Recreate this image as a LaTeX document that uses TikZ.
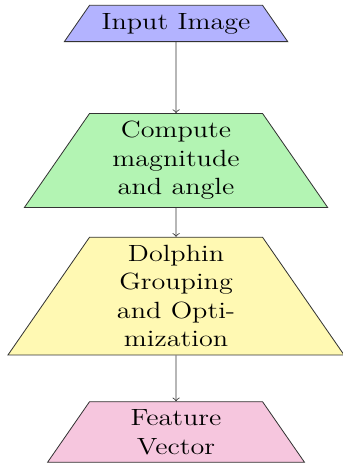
\documentclass[tikz,border=0pt]{standalone}
\usetikzlibrary{positioning, shapes.geometric}
\definecolor{StageBlue}{RGB}{179, 179, 255}
\definecolor{StageGreen}{RGB}{179, 244, 179}
\definecolor{StageYellow}{RGB}{255, 249, 179}
\definecolor{StagePink}{RGB}{246, 198, 222}

\begin{document}
\begin{tikzpicture}[xscale=1.2,
      stage/.style={trapezium, trapezium left angle=60, trapezium right angle=60, draw=black!80, text width=64pt, inner ysep=3.8pt, text centered, font=\fontsize{11.5}{14}\selectfont, transform shape},
      flow/.style={->, draw=black!80}
    ]
      \useasboundingbox (-71.9pt,0) rectangle (67.8pt,-227.9pt);
      \node[stage, fill=StageBlue] (input) at (0,-11.5pt) {Input Image};
      \node[stage, fill=StageGreen, below=34.8pt of input] (compute) {Compute magnitude and angle};
      \node[stage, fill=StageYellow, below=14.2pt of compute] (dolphin) {Dolphin Grouping and Optimization};
      \node[stage, fill=StagePink, below=22.5pt of dolphin] (feature) {Feature Vector};

      \draw[flow] (input) -- (compute);
      \draw[flow] (compute) -- (dolphin);
      \draw[flow] (dolphin) -- (feature);
    \end{tikzpicture}
\end{document}
